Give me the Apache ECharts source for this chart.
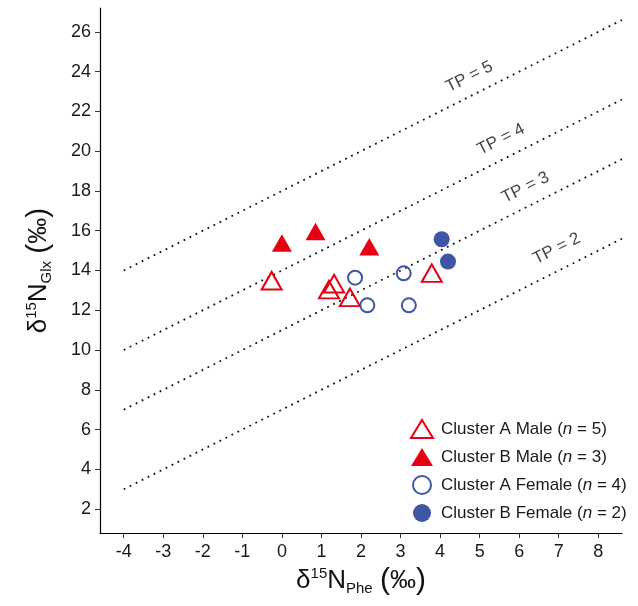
<!DOCTYPE html>
<html><head><meta charset="utf-8">
<script src="https://cdn.jsdelivr.net/npm/echarts@6/dist/echarts.min.js"></script>
<style>html,body{margin:0;padding:0;background:#fff}#c{width:638px;height:606px}</style>
</head><body><div id="c"></div>
<script>
// ---- data ----
const xTicks = [-4, -3, -2, -1, 0, 1, 2, 3, 4, 5, 6, 7, 8];
const yTicks = [2, 4, 6, 8, 10, 12, 14, 16, 18, 20, 22, 24, 26];
const clusterAMale = [[-0.26, 13.34], [1.32, 13.19], [1.19, 12.89], [1.72, 12.50], [3.79, 13.72]];
const clusterBMale = [[0.00, 15.24], [0.85, 15.81], [2.21, 15.05]];
const clusterAFemale = [[1.85, 13.64], [2.16, 12.25], [3.08, 13.86], [3.21, 12.25]];
const clusterBFemale = [[4.04, 15.57], [4.20, 14.45]];
const tpLevels = [2, 3, 4, 5];
const tpIntercepts = [7, 11, 14, 18];      // y of each TP line at x = 0 (slope 1)
const tpLineStartX = -4;
const tpLabelPos = [[6.95, 15.1], [6.16, 18.17], [5.54, 20.59], [4.74, 23.74]];
const seriesNames = ['Cluster A Male', 'Cluster B Male', 'Cluster A Female', 'Cluster B Female'];

// ---- chart ----
const X_MIN = -4.6, X_MAX = 8.6, Y_MIN = 0.8, Y_MAX = 27.2;
const FONT = "'Liberation Sans', Arial, Helvetica, sans-serif";
const RED = '#E60012', BLUE = '#3F55A5';
const counts = {};
counts[seriesNames[0]] = clusterAMale.length;
counts[seriesNames[1]] = clusterBMale.length;
counts[seriesNames[2]] = clusterAFemale.length;
counts[seriesNames[3]] = clusterBFemale.length;

const titleRich = {
  d: {fontSize: 26, color: '#111', fontFamily: FONT},
  p: {fontSize: 30, color: '#111', fontFamily: FONT},
  sup: {fontSize: 15, color: '#111', fontFamily: FONT, verticalAlign: 'top'},
  sub: {fontSize: 15, color: '#111', fontFamily: FONT, verticalAlign: 'bottom'}
};

const chart = echarts.init(document.getElementById('c'), null, {renderer: 'canvas'});

const tpLineSeries = tpLevels.map((tp, i) => ({
  type: 'line', name: 'TP' + tp, silent: true, z: 1,
  data: [[tpLineStartX, tpLineStartX + tpIntercepts[i]], [X_MAX, X_MAX + tpIntercepts[i]]],
  symbol: 'none',
  lineStyle: {color: '#111', width: 1.8, type: [1.8, 4.9]}
}));

const TRI = [20, 17.5];
const option = {
  animation: false,
  backgroundColor: '#fff',
  textStyle: {fontFamily: FONT},
  grid: {left: 100, right: 16, top: 8, bottom: 73, containLabel: false, outerBoundsMode: 'none'},
  xAxis: {
    type: 'value', min: X_MIN, max: X_MAX,
    splitLine: {show: false},
    axisLine: {onZero: false, lineStyle: {color: '#000', width: 1.2}},
    axisTick: {customValues: xTicks, length: 5, lineStyle: {color: '#333', width: 1}},
    axisLabel: {customValues: xTicks, fontSize: 18, color: '#1a1a1a', margin: 10, fontFamily: FONT},
    name: '{d|δ}{sup|15}{d|N}{sub|Phe}{d| }{p|(}{d|‰}{p|)}',
    nameLocation: 'middle', nameGap: 32,
    nameTextStyle: {rich: titleRich}
  },
  yAxis: {
    type: 'value', min: Y_MIN, max: Y_MAX,
    splitLine: {show: false},
    axisLine: {onZero: false, lineStyle: {color: '#000', width: 1.2}},
    axisTick: {customValues: yTicks, length: 5, lineStyle: {color: '#333', width: 1}},
    axisLabel: {customValues: yTicks, fontSize: 18, color: '#1a1a1a', margin: 9, fontFamily: FONT},
    name: '{d|δ}{sup|15}{d|N}{sub|Glx}{d| }{p|(}{d|‰}{p|)}',
    nameLocation: 'middle', nameGap: 46, nameRotate: 90,
    nameTextStyle: {rich: titleRich}
  },
  legend: {
    data: seriesNames,
    orient: 'vertical', left: 410, top: 419, padding: 0,
    itemWidth: 22, itemHeight: 18, itemGap: 9,
    formatter: name => name + ' ({i|n} = ' + counts[name] + ')',
    textStyle: {fontSize: 17, color: '#1a1a1a', fontFamily: FONT, padding: [0, 0, 0, 3],
      rich: {i: {fontSize: 17, fontStyle: 'italic', color: '#1a1a1a', fontFamily: FONT}}}
  },
  series: [
    ...tpLineSeries,
    {
      type: 'scatter', name: 'tpLabels', silent: true, z: 2,
      data: tpLevels.map((tp, i) => ({name: 'TP = ' + tp, value: tpLabelPos[i]})),
      symbolSize: 1, itemStyle: {color: 'rgba(0,0,0,0)'},
      label: {show: true, position: 'inside', formatter: '{b}', rotate: 26.7,
        fontSize: 17, color: '#111', fontFamily: FONT}
    },
    {
      type: 'scatter', name: seriesNames[0], data: clusterAMale, z: 5,
      symbol: 'triangle', symbolSize: TRI, symbolOffset: [0, -TRI[1] / 6],
      itemStyle: {color: 'rgba(255,255,255,0)', borderColor: RED, borderWidth: 2, opacity: 1}
    },
    {
      type: 'scatter', name: seriesNames[1], data: clusterBMale, z: 5,
      symbol: 'triangle', symbolSize: TRI, symbolOffset: [0, -TRI[1] / 6],
      itemStyle: {color: RED, opacity: 1}
    },
    {
      type: 'scatter', name: seriesNames[2], data: clusterAFemale, z: 5,
      symbol: 'circle', symbolSize: 14,
      itemStyle: {color: 'rgba(255,255,255,0)', borderColor: BLUE, borderWidth: 2, opacity: 1}
    },
    {
      type: 'scatter', name: seriesNames[3], data: clusterBFemale, z: 5,
      symbol: 'circle', symbolSize: 16,
      itemStyle: {color: BLUE, opacity: 1}
    }
  ]
};
chart.setOption(option);
</script>
</body></html>
